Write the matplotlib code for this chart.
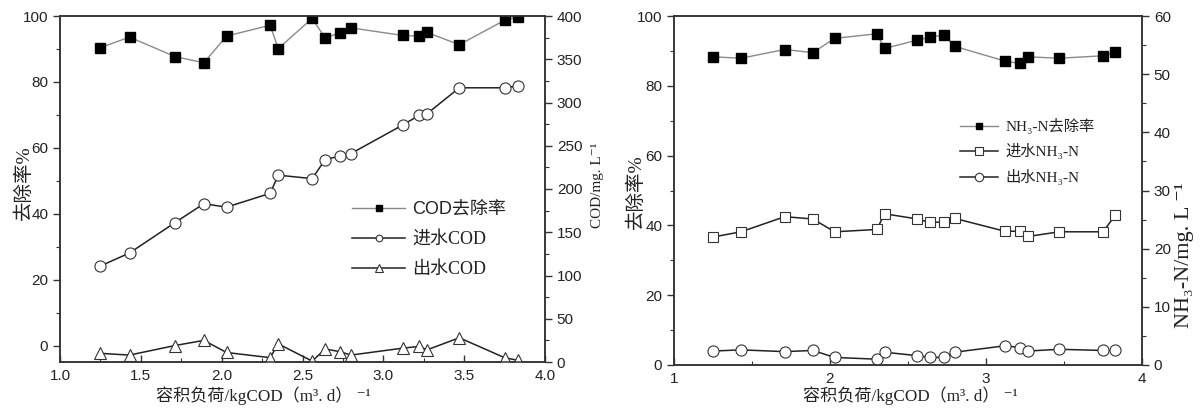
import matplotlib
matplotlib.use('Agg')
import matplotlib.pyplot as plt
from matplotlib.ticker import MultipleLocator, FormatStrFormatter

# ---------------- data ----------------
loads = [1.25, 1.43, 1.71, 1.89, 2.03, 2.30, 2.35, 2.56, 2.64, 2.73, 2.80,
         3.12, 3.22, 3.27, 3.47, 3.75, 3.83]

cod_removal = [90.4, 93.6, 87.7, 85.8, 93.9, 97.2, 90.1, 99.3, 93.3, 94.9, 96.4,
               94.1, 93.9, 95.0, 91.3, 98.7, 99.7]
cod_in = [111, 126, 161, 183, 179, 195, 216, 212, 234, 238, 241,
          274, 285, 287, 317, 317, 319]
cod_out = [10, 8, 19, 25, 11, 5, 21, 1, 15, 12, 8,
           16, 18, 14, 28, 5, 2]

nh3_removal = [88.3, 87.9, 90.4, 89.5, 93.6, 94.9, 90.7, 93.1, 93.9, 94.6, 91.3,
               87.1, 86.4, 88.3, 87.9, 88.6, 89.6]
nh3_in = [22.0, 22.9, 25.5, 25.1, 22.9, 23.3, 26.0, 25.1, 24.5, 24.6, 25.2,
          23.0, 23.0, 22.1, 22.9, 22.9, 25.8]
nh3_out = [2.4, 2.6, 2.3, 2.5, 1.3, 1.0, 2.2, 1.6, 1.3, 1.3, 2.2,
           3.3, 3.0, 2.4, 2.7, 2.5, 2.5]

labels_cod = ['COD去除率', '进水COD', '出水COD']
labels_nh3 = ['NH₃-N去除率', '进水NH₃-N', '出水NH₃-N']
xlabel_text = '容积负荷/kgCOD（m³. d） ⁻¹'

# ---------------- style ----------------
SERIF = ['Liberation Serif', 'DejaVu Serif', 'Noto Sans CJK SC']
SANS = ['Liberation Sans', 'DejaVu Sans', 'Noto Sans CJK SC']
plt.rcParams['font.family'] = SANS

W, H = 1203, 413
fig = plt.figure(figsize=(W / 100, H / 100), dpi=100)

SPINE = '#333333'
TXT = '#222222'


def style_axes(ax, twin):
    for a in (ax, twin):
        for s in a.spines.values():
            s.set_color(SPINE)
            s.set_linewidth(1.1)
    ax.tick_params(axis='x', which='major', direction='in', length=5, width=1,
                   colors=SPINE, labelcolor=TXT, labelsize=11, pad=5)
    ax.tick_params(axis='x', which='minor', direction='in', length=3, width=0.8,
                   colors=SPINE)
    ax.tick_params(axis='y', which='major', direction='out', length=5, width=1,
                   colors=SPINE, labelcolor=TXT, labelsize=11)
    ax.tick_params(axis='y', which='minor', direction='out', length=3, width=0.8,
                   colors=SPINE)
    twin.tick_params(axis='y', which='major', direction='out', length=5, width=1,
                     colors=SPINE, labelcolor=TXT, labelsize=11)
    twin.tick_params(axis='y', which='minor', direction='out', length=3, width=0.8,
                     colors=SPINE)


# ---------------- left panel ----------------
ax1 = fig.add_axes([60 / W, 51 / H, 485 / W, 346 / H])
ax1b = ax1.twinx()

l1, = ax1.plot(loads, cod_removal, color='#8a8a8a', lw=1.0, marker='s', ms=6.5,
               mfc='black', mec='black', zorder=3)
l2, = ax1b.plot(loads, cod_in, color='#222222', lw=1.1, marker='o', ms=8,
                mfc='white', mec='#333333', mew=0.8)
l3, = ax1b.plot(loads, cod_out, color='#222222', lw=1.1, marker='^', ms=8.5,
                mfc='white', mec='#333333', mew=0.8)

ax1.set_xlim(1.0, 4.0)
ax1.set_ylim(-5, 100)
ax1b.set_ylim(0, 400)
ax1.xaxis.set_major_locator(MultipleLocator(0.5))
ax1.xaxis.set_minor_locator(MultipleLocator(0.25))
ax1.xaxis.set_major_formatter(FormatStrFormatter('%.1f'))
ax1.yaxis.set_major_locator(MultipleLocator(20))
ax1.yaxis.set_minor_locator(MultipleLocator(10))
ax1b.yaxis.set_major_locator(MultipleLocator(50))
ax1b.yaxis.set_minor_locator(MultipleLocator(25))
style_axes(ax1, ax1b)

leg1 = fig.legend([l1, l2, l3], labels_cod, loc='upper left',
                  bbox_to_anchor=(352 / W, 1 - 201 / H), frameon=False,
                  fontsize=13, handlelength=2.95, handletextpad=0.4,
                  labelspacing=0.72, borderpad=0, borderaxespad=0,
                  markerscale=0.6)
for i, t in enumerate(leg1.get_texts()):
    t.set_family(SANS if i == 0 else SERIF)
    t.set_color(TXT)

fig.text(24 / W, 1 - 183 / H, '去除率%', rotation=90, ha='center', va='center',
         fontsize=14, family=SERIF, color=TXT)
fig.text(597 / W, 1 - 185 / H, 'COD/mg. L⁻¹', rotation=90, ha='center',
         va='center', fontsize=11, family=SERIF, color=TXT)
fig.text(263 / W, 1 - 396 / H, xlabel_text, ha='center',
         va='center', fontsize=12.3, family=SERIF, color=TXT)

# ---------------- right panel ----------------
ax2 = fig.add_axes([674 / W, 48 / H, 468 / W, 349 / H])
ax2b = ax2.twinx()

m1, = ax2.plot(loads, nh3_removal, color='#8a8a8a', lw=1.0, marker='s', ms=6.5,
               mfc='black', mec='black', zorder=3)
m2, = ax2b.plot(loads, nh3_in, color='#222222', lw=1.1, marker='s', ms=7,
                mfc='white', mec='#333333', mew=0.8)
m3, = ax2b.plot(loads, nh3_out, color='#222222', lw=1.1, marker='o', ms=8,
                mfc='white', mec='#333333', mew=0.8)

ax2.set_xlim(1, 4)
ax2.set_ylim(0, 100)
ax2b.set_ylim(0, 60)
ax2.xaxis.set_major_locator(MultipleLocator(1))
ax2.xaxis.set_minor_locator(MultipleLocator(0.5))
ax2.yaxis.set_major_locator(MultipleLocator(20))
ax2.yaxis.set_minor_locator(MultipleLocator(10))
ax2b.yaxis.set_major_locator(MultipleLocator(10))
ax2b.yaxis.set_minor_locator(MultipleLocator(5))
style_axes(ax2, ax2b)

leg2 = fig.legend([m1, m2, m3], labels_nh3, loc='upper left',
                  bbox_to_anchor=(960 / W, 1 - 118 / H), frameon=False,
                  fontsize=11, handlelength=2.5, handletextpad=0.45,
                  labelspacing=0.62, borderpad=0, borderaxespad=0,
                  markerscale=0.75)
for t in leg2.get_texts():
    t.set_family(SERIF)
    t.set_color(TXT)

fig.text(636 / W, 1 - 192 / H, '去除率%', rotation=90, ha='center', va='center',
         fontsize=14, family=SERIF, color=TXT)
fig.text(1185 / W, 1 - 255 / H, 'NH₃-N/mg. L ⁻¹', rotation=90,
         ha='center', va='center', fontsize=16, family=SERIF, color=TXT)
fig.text(910 / W, 1 - 396 / H, xlabel_text, ha='center',
         va='center', fontsize=12.3, family=SERIF, color=TXT)

fig.savefig('out.png', dpi=100)
